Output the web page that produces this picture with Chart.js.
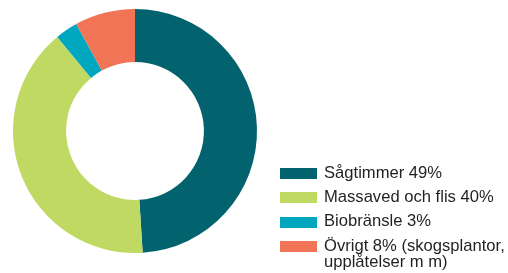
<!DOCTYPE html>
<html>
<head>
<meta charset="utf-8">
<script src="https://cdn.jsdelivr.net/npm/chart.js@4.4.1/dist/chart.umd.min.js"></script>
<style>
  html, body { margin: 0; padding: 0; background: #fff; }
  #wrap { position: relative; width: 508px; height: 273px; overflow: hidden; }
  #c { position: absolute; left: 0; top: 0; }
  .row { position: absolute; left: 324px; width: 184px; font-family: "Liberation Sans", Arial, sans-serif; font-size: 16.6px; line-height: 16.5px; color: #231f20; white-space: normal; }
  .box { position: absolute; left: 280px; width: 37px; height: 11px; }
</style>
</head>
<body>
<div id="wrap">
  <canvas id="c" width="508" height="273"></canvas>
</div>
<script>
const categories = ['Sågtimmer', 'Massaved och flis', 'Biobränsle', 'Övrigt'];
const values = [49, 40, 3, 8];
const notes = ['', '', '', ' (skogsplantor, upplåtelser m m)'];
const colors = ['#02636f', '#bfd962', '#00a7bf', '#f27457'];

new Chart(document.getElementById('c'), {
  type: 'doughnut',
  data: {
    labels: categories,
    datasets: [{
      data: values,
      backgroundColor: colors,
      borderWidth: 0,
      hoverOffset: 0
    }]
  },
  options: {
    responsive: false,
    animation: false,
    devicePixelRatio: 1,
    cutout: '56.5%',
    rotation: 0,
    layout: { padding: { left: 13, top: 9, right: 251, bottom: 20 } },
    plugins: {
      legend: { display: false },
      tooltip: { enabled: false }
    }
  }
});

// HTML legend built from the data arrays
const wrap = document.getElementById('wrap');
const firstBaseline = 178.7, step = 24.3;
categories.forEach((cat, i) => {
  const baseline = firstBaseline + i * step;
  const box = document.createElement('div');
  box.className = 'box';
  box.style.top = (baseline - 10.7) + 'px';
  box.style.background = colors[i];
  wrap.appendChild(box);
  const row = document.createElement('div');
  row.className = 'row';
  row.style.top = (baseline - 14) + 'px';
  row.textContent = cat + ' ' + values[i] + '%' + notes[i];
  wrap.appendChild(row);
});
</script>
</body>
</html>
